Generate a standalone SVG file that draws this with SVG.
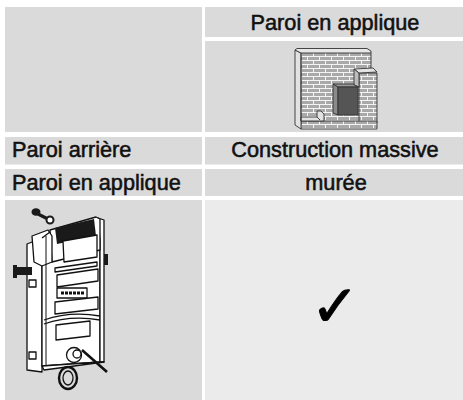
<svg xmlns="http://www.w3.org/2000/svg" width="463" height="400" viewBox="0 0 463 400">
<defs>
<style>
.cell{fill:#dadada}
.light{fill:#ebebeb}
.t{font-family:"Liberation Sans",Arial,sans-serif;font-size:21.7px;fill:#111;stroke:#111;stroke-width:0.55}
.c{text-anchor:middle}
.ln{fill:#fff;stroke:#111;stroke-width:1.3;stroke-linejoin:round}
.wl{stroke:#333;stroke-width:0.9;stroke-linejoin:round}
</style>
<pattern id="brick" patternUnits="userSpaceOnUse" x="301" y="53" width="12" height="8">
<rect width="12" height="8" fill="#a9a9a9"/>
<rect y="3" width="12" height="1" fill="#f4f4f4"/>
<rect y="7" width="12" height="1" fill="#f4f4f4"/>
<rect x="0" y="0" width="1" height="3" fill="#f4f4f4"/>
<rect x="6" y="4" width="1" height="3" fill="#f4f4f4"/>
</pattern>
</defs>
<rect width="463" height="400" fill="#fff"/>

<g id="cell-corner"><rect class="cell" x="5" y="7" width="197" height="125"/></g>
<g id="cell-header"><rect class="cell" x="205" y="7" width="258" height="30"/>
<text class="t c" x="335" y="29.5">Paroi en applique</text></g>
<g id="cell-wall-image"><rect class="cell" x="205" y="41" width="258" height="91"/>
<g id="wall-figure">
<rect x="301" y="53" width="70" height="70" fill="url(#brick)"/>
<rect x="359" y="73" width="18" height="50" fill="url(#brick)" class="wl"/>
<rect x="301" y="121" width="76" height="8" fill="url(#brick)" class="wl"/>
<polygon class="wl" points="295,50 301,53 301,129 295,125" fill="#e2e2e2"/>
<polygon class="wl" points="295,50 297,48.5 367,48.5 371,51 371,53 301,53" fill="#e8e8e8"/>
<line class="wl" x1="371" y1="53" x2="371" y2="68"/>
<polygon class="wl" points="354,69 373,68 377,72 359,73" fill="#e4e4e4"/>
<polygon class="wl" points="354,69 359,73 359,87 354,85" fill="#bdbdbd"/>
<polygon class="wl" points="333,84 353,84 358,87 338,87" fill="#9a9a9a"/>
<polygon class="wl" points="333,84 338,87 338,115 333,113" fill="#8a8a8a"/>
<rect class="wl" x="338" y="87" width="20" height="28" fill="#555"/>
<polygon class="wl" points="301,117 317,117 317,111 321,111 324,114 324,121 301,121" fill="#e2e2e2"/>
<line class="wl" x1="317" y1="117" x2="320" y2="120"/>
<line class="wl" x1="301" y1="53" x2="301" y2="121"/>
</g></g>

<g id="cell-paroi-arriere"><rect class="cell" x="5" y="137" width="197" height="27.5"/>
<text class="t" x="12" y="157">Paroi arrière</text></g>
<g id="cell-construction"><rect class="cell" x="205" y="137" width="258" height="27.5"/>
<text class="t c" x="335" y="157">Construction massive</text></g>

<g id="cell-paroi-applique"><rect class="cell" x="5" y="169" width="197" height="27"/>
<text class="t" x="12" y="190">Paroi en applique</text></g>
<g id="cell-muree"><rect class="cell" x="205" y="169" width="258" height="27"/>
<text class="t c" x="336" y="190">murée</text></g>

<g id="cell-cistern"><rect class="cell" x="5" y="200" width="197" height="200"/>
<g id="cistern">
<ellipse cx="36" cy="212" rx="4.5" ry="3.8" fill="#1a1a1a"/>
<line x1="38" y1="214" x2="47" y2="218.5" stroke="#1a1a1a" stroke-width="3.2"/>
<circle cx="50" cy="220" r="3.5" fill="#fff" stroke="#1a1a1a" stroke-width="2"/>
<polygon class="ln" points="27,244 42,238 42,372 27,370"/>
<polygon class="ln" points="42,252 100,240 100,362 42,366"/>
<polygon class="ln" points="98,218 104,220 104,362 100,362 100,240"/>
<polygon class="ln" points="50,230 96,217 100,219 100,250 52,262"/>
<polygon points="55,228 94,219 96,236 57,244" fill="#1a1a1a"/>
<polygon class="ln" points="63,241 97,235 97,257 64,262"/>
<polygon class="ln" points="32,236 48,230 52,236 52,262 42,266 34,262"/>
<line x1="42" y1="238" x2="50" y2="232" stroke="#111" stroke-width="1.3"/>
<line x1="46" y1="236" x2="46" y2="368" stroke="#111" stroke-width="1"/>
<rect x="13" y="265" width="4" height="13" fill="#1a1a1a"/>
<rect x="15" y="267" width="17" height="8" fill="#1a1a1a"/>
<rect x="104" y="254" width="4" height="11" fill="#1a1a1a"/>
<polygon class="ln" points="55,268 97,262 97,266 55,272"/>
<polygon class="ln" points="57,275 98,269 98,281 57,287"/>
<rect x="57" y="288" width="30" height="10" class="ln"/>
<line x1="61" y1="293" x2="84" y2="293" stroke="#111" stroke-width="3" stroke-dasharray="3,1"/>
<polygon class="ln" points="55,302 98,297 98,309 55,314"/>
<path d="M44,320 Q70,311 100,316" fill="none" stroke="#111" stroke-width="1.3"/>
<path d="M44,324 Q70,315 100,320" fill="none" stroke="#111" stroke-width="1.3"/>
<polygon class="ln" points="56,325 90,321 90,336 56,340"/>
<rect x="29" y="280" width="7" height="7" class="ln"/>
<rect x="29" y="352" width="7" height="7" class="ln"/>
<polygon class="ln" points="42,366 100,362 104,362 44,370"/>
<line x1="82" y1="350" x2="107" y2="372" stroke="#111" stroke-width="2.6"/>
<ellipse cx="68" cy="378" rx="9" ry="11" fill="none" stroke="#111" stroke-width="2.4"/>
<ellipse cx="68" cy="378" rx="5" ry="7" fill="none" stroke="#111" stroke-width="1.3"/>
<circle cx="74" cy="355" r="7.5" class="ln" stroke-width="1.8"/>
<circle cx="77" cy="354" r="4" class="ln"/>
</g></g>

<g id="cell-check"><rect class="light" x="205" y="200" width="258" height="200"/>
<text x="335" y="326" text-anchor="middle" font-family="DejaVu Sans,sans-serif" font-size="58" fill="#000" stroke="#000" stroke-width="1">✓</text></g>
</svg>
